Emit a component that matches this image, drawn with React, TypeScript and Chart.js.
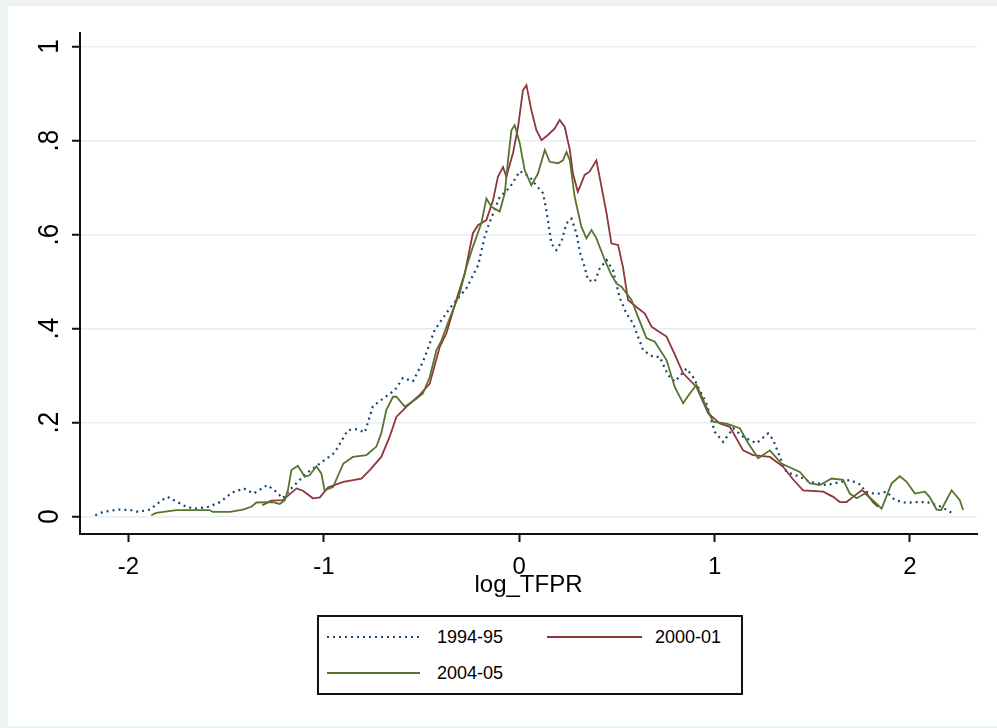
import { useEffect, useRef } from "react";
import { Chart, registerables } from "chart.js";

Chart.register(...registerables);

// kernel density of log_TFPR
const x9495 = [
  -2.17, -2.13, -2.05, -1.99, -1.95, -1.89, -1.83, -1.8, -1.75, -1.7, -1.65, -1.59, -1.53, -1.47, -1.41,
  -1.36, -1.29, -1.25, -1.21, -1.16, -1.09, -1.02, -0.945, -0.877, -0.834, -0.79, -0.749, -0.697, -0.637,
  -0.595, -0.544, -0.493, -0.458, -0.433, -0.356, -0.27, -0.21, -0.177, -0.16, -0.1, -0.049, 0.003, 0.054,
  0.079, 0.122, 0.139, 0.165, 0.19, 0.216, 0.242, 0.267, 0.293, 0.31, 0.335, 0.352, 0.387, 0.412, 0.447,
  0.48, 0.515, 0.549, 0.583, 0.634, 0.685, 0.719, 0.762, 0.796, 0.856, 0.89, 0.924, 0.958, 1.001, 1.044,
  1.095, 1.146, 1.214, 1.274, 1.3, 1.334, 1.368, 1.436, 1.487, 1.573, 1.692, 1.752, 1.769, 1.829, 1.88,
  1.923, 1.983, 2.025, 2.085, 2.11, 2.16, 2.213,
];
const y9495 = [
  0.003, 0.01, 0.015, 0.014, 0.01, 0.015, 0.035, 0.042, 0.031, 0.02, 0.017, 0.021, 0.031, 0.051, 0.06,
  0.049, 0.067, 0.055, 0.039, 0.063, 0.092, 0.113, 0.136, 0.184, 0.186, 0.179, 0.235, 0.251, 0.269,
  0.295, 0.288, 0.329, 0.368, 0.397, 0.443, 0.486, 0.535, 0.595, 0.617, 0.68, 0.7, 0.735, 0.723,
  0.709, 0.688, 0.652, 0.581, 0.567, 0.585, 0.624, 0.634, 0.603, 0.563, 0.531, 0.503, 0.5, 0.528, 0.546,
  0.524, 0.465, 0.432, 0.411, 0.354, 0.34, 0.34, 0.301, 0.287, 0.315, 0.297, 0.269, 0.241, 0.18, 0.159,
  0.188, 0.17, 0.156, 0.177, 0.163, 0.127, 0.095, 0.085, 0.074, 0.067, 0.078, 0.067, 0.053, 0.048, 0.053,
  0.035, 0.029, 0.031, 0.031, 0.028, 0.021, 0.008,
];

const x0001 = [
  -1.315, -1.27, -1.21, -1.14, -1.107, -1.056, -1.02, -0.979, -0.9, -0.808, -0.765, -0.706, -0.663, -0.629,
  -0.569, -0.509, -0.458, -0.407, -0.373, -0.322, -0.279, -0.237, -0.211, -0.168, -0.134, -0.109, -0.083,
  -0.066, -0.032, -0.006, 0.019, 0.037, 0.062, 0.088, 0.114, 0.147, 0.182, 0.207, 0.233, 0.259, 0.275,
  0.3, 0.335, 0.36, 0.395, 0.421, 0.447, 0.472, 0.506, 0.531, 0.557, 0.6, 0.643, 0.677, 0.71, 0.754,
  0.796, 0.839, 0.907, 0.967, 1.027, 1.078, 1.146, 1.197, 1.283, 1.351, 1.4, 1.453, 1.556, 1.607, 1.641,
  1.675, 1.709, 1.752, 1.778, 1.81, 1.837,
];
const y0001 = [
  0.024, 0.034, 0.035, 0.06, 0.055, 0.039, 0.041, 0.062, 0.074, 0.081, 0.099, 0.127, 0.17, 0.212,
  0.237, 0.259, 0.283, 0.361, 0.39, 0.461, 0.517, 0.603, 0.62, 0.631, 0.673, 0.723, 0.744,
  0.723, 0.773, 0.829, 0.907, 0.918, 0.865, 0.822, 0.801, 0.812, 0.826, 0.844, 0.829, 0.78, 0.73,
  0.691, 0.727, 0.734, 0.758, 0.702, 0.645, 0.581, 0.578, 0.531, 0.461, 0.446, 0.432, 0.404, 0.395, 0.383,
  0.345, 0.305, 0.276, 0.22, 0.198, 0.191, 0.141, 0.131, 0.127, 0.106, 0.08, 0.056, 0.053, 0.042, 0.031,
  0.031, 0.042, 0.056, 0.05, 0.031, 0.021,
];

const x0405 = [
  -1.883, -1.858, -1.755, -1.585, -1.568, -1.48, -1.414, -1.371, -1.345, -1.26, -1.226, -1.2, -1.184, -1.166,
  -1.133, -1.098, -1.073, -1.038, -1.013, -0.996, -0.953, -0.9, -0.851, -0.782, -0.731, -0.706, -0.68,
  -0.646, -0.629, -0.586, -0.535, -0.493, -0.458, -0.424, -0.398, -0.356, -0.305, -0.27, -0.237, -0.194,
  -0.168, -0.142, -0.1, -0.074, -0.057, -0.04, -0.023, 0.003, 0.028, 0.062, 0.096, 0.131, 0.156, 0.199,
  0.224, 0.242, 0.259, 0.284, 0.318, 0.344, 0.37, 0.395, 0.438, 0.472, 0.5, 0.523, 0.575, 0.608, 0.651,
  0.694, 0.754, 0.796, 0.839, 0.873, 0.907, 0.95, 0.992, 1.061, 1.129, 1.172, 1.223, 1.283, 1.342, 1.436,
  1.487, 1.539, 1.599, 1.658, 1.692, 1.727, 1.769, 1.81, 1.855, 1.906, 1.948, 1.983, 2.025, 2.076, 2.1,
  2.136, 2.16, 2.213, 2.255, 2.272,
];
const y0405 = [
  0.003, 0.008, 0.014, 0.014, 0.01, 0.01, 0.015, 0.021, 0.03, 0.031, 0.027, 0.035, 0.056, 0.099,
  0.108, 0.085, 0.088, 0.107, 0.092, 0.056, 0.063, 0.113, 0.127, 0.131, 0.149, 0.177, 0.227,
  0.255, 0.255, 0.234, 0.248, 0.262, 0.297, 0.354, 0.375, 0.422, 0.475, 0.531, 0.574, 0.624,
  0.677, 0.659, 0.649, 0.688, 0.759, 0.822, 0.833, 0.794, 0.737, 0.705, 0.73, 0.78, 0.755, 0.752,
  0.758, 0.776, 0.758, 0.68, 0.617, 0.592, 0.61, 0.592, 0.546, 0.514, 0.495, 0.489, 0.461, 0.425, 0.38,
  0.372, 0.333, 0.276, 0.241, 0.262, 0.28, 0.241, 0.202, 0.198, 0.188, 0.156, 0.124, 0.141, 0.113, 0.095,
  0.071, 0.067, 0.081, 0.078, 0.049, 0.039, 0.049, 0.035, 0.017, 0.071, 0.086, 0.074, 0.049, 0.053, 0.042,
  0.015, 0.014, 0.056, 0.035, 0.014,
];

const yTicks = [0, 0.2, 0.4, 0.6, 0.8, 1];
const yTickLabels = ["0", ".2", ".4", ".6", ".8", "1"];
const xTicks = [-2, -1, 0, 1, 2];

const BLUE = "#1a476f";
const RED = "#90353b";
const GREEN = "#55752f";
const FONT = '"Liberation Sans", Arial, sans-serif';

const pts = (xs: number[], ys: number[]) => xs.map((x, i) => ({ x, y: ys[i] }));

// Stata-style axis text: vertical y labels, big x labels, title under the axis
const axisText = {
  id: "axisText",
  afterDraw(chart: any) {
    const { ctx, chartArea, scales } = chart;
    ctx.save();
    ctx.fillStyle = "#000";
    ctx.textAlign = "center";
    ctx.textBaseline = "alphabetic";
    ctx.font = `24px ${FONT}`;
    xTicks.forEach((v) => {
      ctx.fillText(String(v), scales.x.getPixelForValue(v), chartArea.bottom + 39.5);
    });
    ctx.fillText("log_TFPR", (chartArea.left + chartArea.right) / 2, chartArea.bottom + 58);
    ctx.font = `26px ${FONT}`;
    yTicks.forEach((v, i) => {
      ctx.save();
      ctx.translate(chartArea.left - 22, scales.y.getPixelForValue(v));
      ctx.rotate(-Math.PI / 2);
      ctx.scale(1, 1.1);
      ctx.fillText(yTickLabels[i], 0, 0);
      ctx.restore();
    });
    ctx.restore();
  },
};

export default function App() {
  const canvasRef = useRef<HTMLCanvasElement>(null);

  useEffect(() => {
    document.body.style.margin = "0";
    if (!canvasRef.current) return;
    const chart = new Chart(canvasRef.current, {
      type: "line",
      data: {
        datasets: [
          {
            label: "1994-95",
            data: pts(x9495, y9495),
            borderColor: BLUE,
            borderWidth: 2.2,
            borderDash: [2, 4],
            order: 3,
          },
          { label: "2000-01", data: pts(x0001, y0001), borderColor: RED, borderWidth: 1.8, order: 2 },
          { label: "2004-05", data: pts(x0405, y0405), borderColor: GREEN, borderWidth: 1.8, order: 1 },
        ],
      },
      options: {
        responsive: false,
        animation: false,
        layout: { padding: { left: 80, top: 33, right: 20, bottom: 194 } },
        elements: { point: { radius: 0 }, line: { tension: 0 } },
        plugins: { legend: { display: false }, tooltip: { enabled: false } },
        scales: {
          x: {
            type: "linear",
            min: -2.248,
            max: 2.343,
            afterFit: (s: any) => {
              s.height = 0;
            },
            ticks: { stepSize: 1, includeBounds: false, display: false },
            grid: { drawOnChartArea: false, drawTicks: true, tickLength: 8, tickColor: "#111", tickWidth: 2 },
            border: { color: "#111", width: 2 },
          },
          y: {
            min: -0.037,
            max: 1.029,
            afterFit: (s: any) => {
              s.width = 0;
            },
            ticks: { stepSize: 0.2, includeBounds: false, display: false },
            grid: { color: "#e4edf0", lineWidth: 1.5, tickLength: 8, tickColor: "#111", tickWidth: 2 },
            border: { color: "#111", width: 2 },
          },
        },
      },
      plugins: [axisText],
    });
    return () => chart.destroy();
  }, []);

  const legendText: React.CSSProperties = {
    position: "absolute",
    fontFamily: FONT,
    fontSize: 18,
    lineHeight: "18px",
    color: "#000",
  };

  return (
    <div style={{ position: "relative", width: 997, height: 728, background: "#edf2f3", overflow: "hidden" }}>
      <div style={{ position: "absolute", left: 8, top: 6, width: 989, height: 720, background: "#fff" }} />
      <canvas ref={canvasRef} width={997} height={728} style={{ position: "absolute", left: 0, top: 0 }} />

      {/* legend box */}
      <div
        style={{
          position: "absolute",
          left: 317,
          top: 615,
          width: 426,
          height: 80,
          boxSizing: "border-box",
          border: "2px solid #111",
          background: "#fff",
        }}
      >
        <svg width={422} height={76} style={{ position: "absolute", left: 0, top: 0 }}>
          <line x1={8} y1={20} x2={104} y2={20} stroke={BLUE} strokeWidth={2.2} strokeDasharray="2 4" />
          <line x1={228} y1={20} x2={323} y2={20} stroke={RED} strokeWidth={1.8} />
          <line x1={8} y1={56} x2={101} y2={56} stroke={GREEN} strokeWidth={1.8} />
        </svg>
        <span style={{ ...legendText, left: 118, top: 11 }}>1994-95</span>
        <span style={{ ...legendText, left: 336, top: 11 }}>2000-01</span>
        <span style={{ ...legendText, left: 118, top: 47 }}>2004-05</span>
      </div>
    </div>
  );
}
